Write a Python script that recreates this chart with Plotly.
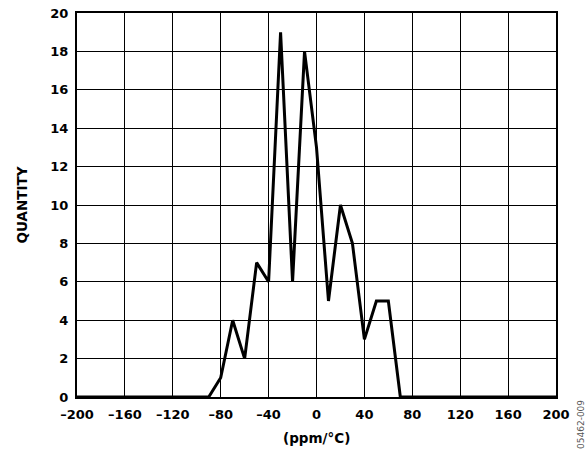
import plotly.graph_objects as go

# Temperature coefficient histogram (ppm/°C) vs. number of parts
tempco = list(range(-200, 201, 10))
quantity = [0, 0, 0, 0, 0, 0, 0, 0, 0, 0, 0, 0,      # -200 .. -90
            1, 4, 2, 7, 6, 19, 6, 18, 13,             # -80 .. 0
            5, 10, 8, 3, 5, 5, 0,                     # 10 .. 70
            0, 0, 0, 0, 0, 0, 0, 0, 0, 0, 0, 0, 0]    # 80 .. 200

x_ticks = list(range(-200, 201, 40))
x_tick_text = [str(v).replace("-", "\u2013") for v in x_ticks]
y_ticks = list(range(0, 21, 2))

FONT = "DejaVu Sans"
W, H = 588, 458
ML, MR, MT, MB = 77, 32, 13, 61
PW, PH = W - ML - MR, H - MT - MB


def px_x(px):
    """Horizontal pixel position -> paper fraction."""
    return (px - ML) / PW


def px_y(py):
    """Vertical pixel position (from top) -> paper fraction."""
    return (H - MB - py) / PH


fig = go.Figure()
fig.add_trace(go.Scatter(
    x=tempco, y=quantity, mode="lines",
    line=dict(color="black", width=3),
    hoverinfo="skip", showlegend=False,
))

axis_common = dict(
    showline=True, linecolor="black", linewidth=2, mirror=True,
    showgrid=True, gridcolor="black", gridwidth=1,
    zeroline=False, ticks="", automargin=False,
    tickfont=dict(family=FONT, size=13, color="black", weight="bold"),
)

fig.update_xaxes(range=[-200, 200], tickvals=x_ticks, ticktext=x_tick_text,
                 ticklabelstandoff=4, **axis_common)
fig.update_yaxes(range=[0, 20], tickvals=y_ticks,
                 ticklabelstandoff=4, **axis_common)

fig.add_annotation(text="QUANTITY", x=px_x(21.5), y=0.5,
                   xref="paper", yref="paper", xanchor="center", yanchor="middle",
                   showarrow=False, textangle=-90,
                   font=dict(family=FONT, size=13.5, color="black", weight="bold"))
fig.add_annotation(text="(ppm/\u00b0C)", x=0.5, y=px_y(438),
                   xref="paper", yref="paper", xanchor="center", yanchor="middle",
                   showarrow=False,
                   font=dict(family=FONT, size=13.5, color="black", weight="bold"))
fig.add_annotation(text="05462-009", x=px_x(581), y=px_y(425),
                   xref="paper", yref="paper", xanchor="center", yanchor="middle",
                   showarrow=False, textangle=-90,
                   font=dict(family=FONT, size=9, color="#555555"))

fig.update_layout(
    width=W, height=H,
    margin=dict(l=ML, r=MR, t=MT, b=MB, pad=0, autoexpand=False),
    paper_bgcolor="white", plot_bgcolor="white",
)

fig.write_html("out.html")
